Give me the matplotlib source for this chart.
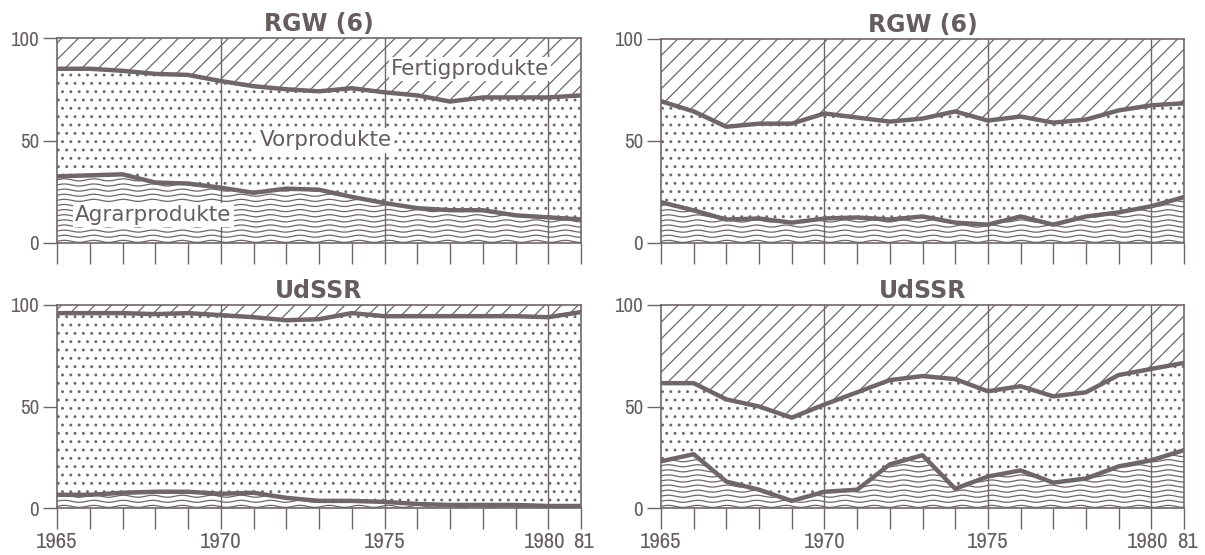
import numpy as np
import matplotlib.pyplot as plt
from matplotlib import font_manager
from matplotlib.transforms import ScaledTranslation

# --- Дані (частки, %) ---
years = list(range(1965, 1982))

# RGW (6), ліва панель
rgw_l_agrar = [32.5, 33, 33.5, 29.5, 29, 27, 24.5, 26.5, 26, 22.5, 19.5, 17, 16, 16, 13.5, 12.5, 11.5]
rgw_l_vor = [52.5, 52, 50.5, 53, 53, 52, 52, 48.5, 48, 53, 54, 55, 53, 55, 57.5, 58.5, 60.5]

# RGW (6), права панель
rgw_r_agrar = [20, 16, 11.5, 12, 10, 12, 12.5, 11.5, 13, 10, 9, 13, 9, 13, 15, 18, 22.5]
rgw_r_vor = [49.5, 48.5, 45.5, 46.5, 48.5, 51.5, 49, 48, 48, 54.5, 51, 49, 50, 47.5, 50, 49.5, 46]

# UdSSR, ліва панель
su_l_agrar = [6.5, 6.5, 7.5, 8, 8, 7, 7.5, 5, 3.5, 3.5, 3, 2, 1.5, 1.5, 1.5, 1, 1]
su_l_vor = [89.5, 89.5, 88.5, 87.5, 88, 88, 86.5, 87.5, 89.5, 92.5, 91.5, 92.5, 93, 93, 93, 93, 95.5]

# UdSSR, права панель
su_r_agrar = [23, 26.5, 13, 9, 3.5, 8, 9, 21.5, 26, 9.5, 15.5, 18.5, 12.5, 14.5, 20.5, 23.5, 28.5]
su_r_vor = [38.5, 35, 40.5, 41, 41, 43, 48, 41.5, 39, 54, 42, 41.5, 42.5, 42.5, 45, 45, 43]

titles = ['RGW (6)', 'RGW (6)', 'UdSSR', 'UdSSR']
panels = [(rgw_l_agrar, rgw_l_vor), (rgw_r_agrar, rgw_r_vor),
          (su_l_agrar, su_l_vor), (su_r_agrar, su_r_vor)]
year_labels = {1965: '1965', 1970: '1970', 1975: '1975', 1980: '1980', 1981: '81'}

grey = '#6f6668'
text_grey = '#665d5f'
plt.rcParams['hatch.linewidth'] = 0.9
plt.rcParams['hatch.color'] = grey

# вузький шрифт для підписів осей, якщо такий є
names = sorted({f.name for f in font_manager.fontManager.ttflist})
narrow = [n for n in names if 'Narrow' in n or 'Condensed' in n]
narrow_family = [narrow[0], 'DejaVu Sans'] if narrow else ['DejaVu Sans']

fig = plt.figure(figsize=(12.05, 5.55), dpi=100)
W, H = 1205, 555
# позиції осей у пікселях: (ліво, верх, право, низ)
boxes = [(57, 38, 581, 243), (661, 39, 1184, 243),
         (57, 305, 581, 508), (661, 305, 1184, 508)]


def wavy_fill(ax, lower, upper, x):
    # хвилясте штрихування для аграрної продукції
    poly = ax.fill_between(x, lower, upper, facecolor='white', edgecolor='none', linewidth=0)
    clip = poly.get_paths()[0]
    xx = np.linspace(x[0], x[-1], 800)
    for base in np.arange(0.8, max(upper) + 3, 2.5):
        yy = base + 0.5 * np.sin(2 * np.pi * (xx - 1965) / 0.9)
        ln, = ax.plot(xx, yy, color=grey, lw=0.9)
        ln.set_clip_path(clip, ax.transData)


def style_labels(labels, size):
    for lab in labels:
        lab.set_family(narrow_family)
        lab.set_fontsize(size)


for i, (ax_box, title, (agrar, vor)) in enumerate(zip(boxes, titles, panels)):
    l, t, r, b = ax_box
    ax = fig.add_axes([l / W, 1 - b / H, (r - l) / W, (b - t) / H])
    x = np.array(years, dtype=float)
    agrar = np.array(agrar)
    upper = agrar + np.array(vor)

    wavy_fill(ax, np.zeros_like(agrar), agrar, x)
    ax.fill_between(x, agrar, upper, facecolor='white', edgecolor=grey, hatch='..', linewidth=0)
    ax.fill_between(x, upper, 100, facecolor='white', edgecolor=grey, hatch='//', linewidth=0)

    ax.plot(x, agrar, color=grey, lw=3.2, solid_joinstyle='round', zorder=5)
    ax.plot(x, upper, color=grey, lw=3.2, solid_joinstyle='round', zorder=5)

    for yr in (1970, 1975, 1980):
        ax.axvline(yr, color=grey, lw=1.0, zorder=4)

    ax.set_xlim(1965, 1981)
    ax.set_ylim(0, 100)
    for s in ax.spines.values():
        s.set_color(grey)
        s.set_linewidth(1.2)

    ax.set_yticks([0, 50, 100])
    ax.tick_params(axis='y', direction='out', length=10, width=1.0, color=grey,
                   labelcolor=text_grey, pad=3)
    ax.set_xticks(years)
    if i >= 2:
        ax.set_xticklabels([year_labels.get(yr, '') for yr in years])
    else:
        ax.set_xticklabels([])
    ax.tick_params(axis='x', direction='out', length=15, width=1.0, color=grey,
                   labelcolor=text_grey, pad=2)
    style_labels(ax.get_xticklabels(), 16.5)
    style_labels(ax.get_yticklabels(), 15)

    # розсунути "1980" та "81", щоб не злипалися
    if i >= 2:
        labs = ax.get_xticklabels()
        labs[-2].set_transform(labs[-2].get_transform() + ScaledTranslation(-4 / 100, 0, fig.dpi_scale_trans))
        labs[-1].set_transform(labs[-1].get_transform() + ScaledTranslation(3 / 100, 0, fig.dpi_scale_trans))

    ax.set_title(title, fontsize=17, fontweight='bold', color=text_grey, pad=5)

    if i == 0:
        box = dict(facecolor='white', edgecolor='none', pad=1.5)
        ax.text(1975.2, 85, 'Fertigprodukte', fontsize=15.5, color=text_grey,
                va='center', bbox=box, zorder=6)
        ax.text(1973.2, 50, 'Vorprodukte', fontsize=15.5, color=text_grey,
                ha='center', va='center', bbox=box, zorder=6)
        ax.text(1965.55, 13.5, 'Agrarprodukte', fontsize=15.5, color=text_grey,
                va='center', bbox=box, zorder=6)

fig.savefig('out.png', dpi=100, facecolor='white')
